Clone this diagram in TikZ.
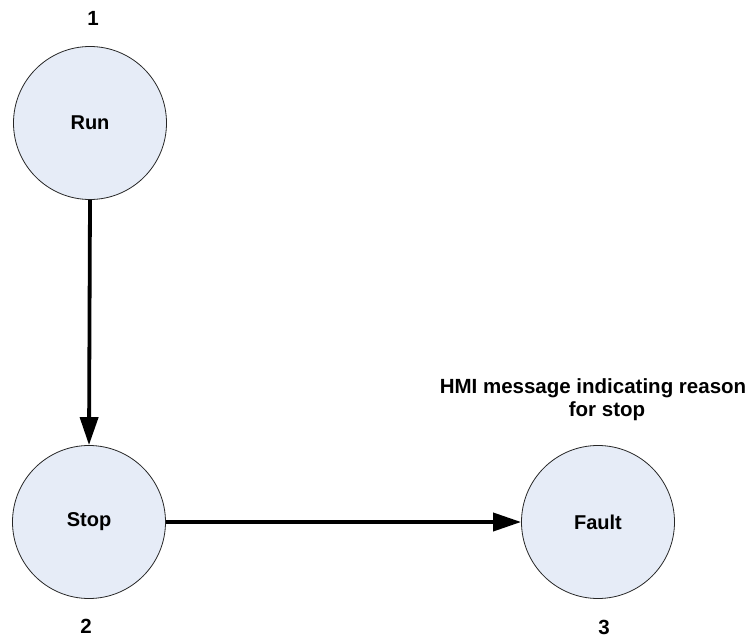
\documentclass[tikz,border=0pt]{standalone}
\usepackage{fontspec}
\setmainfont{Liberation Sans}
\usetikzlibrary{arrows.meta}
\definecolor{statefill}{HTML}{E6ECF7}
\begin{document}
\begin{tikzpicture}[x=1pt,y=-1pt,
  state/.style={circle, draw=black!85, line width=0.8pt, fill=statefill,
    minimum size=153pt, inner sep=0pt, font=\bfseries\fontsize{20}{23}\selectfont},
  lbl/.style={font=\bfseries\fontsize{20.5}{23}\selectfont, inner sep=0pt},
  flow/.style={line width=3.8pt, -{Triangle[length=28pt,width=18pt]}}]
  \useasboundingbox (0,0) rectangle (752,639);
  % states
  \node[state] (run) at (90,123) {Run};
  \node[state] (stop) at (89,522) {Stop};
  \node[state] (fault) at (598,522) {Fault};
  % state numbers
  \node[lbl] (n1) at (93,18) {1};
  \node[lbl] (n2) at (86,626) {2};
  \node[lbl] (n3) at (604,627) {3};
  % note above the fault state
  \node[lbl] (note1) at (593,388) {HMI message indicating reason};
  \node[lbl] (note2) at (607,411) {for stop};
  % transitions
  \draw[flow] (run.south) -- (stop.north);
  \draw[flow] (stop.east) -- (fault.west);
\end{tikzpicture}
\end{document}
